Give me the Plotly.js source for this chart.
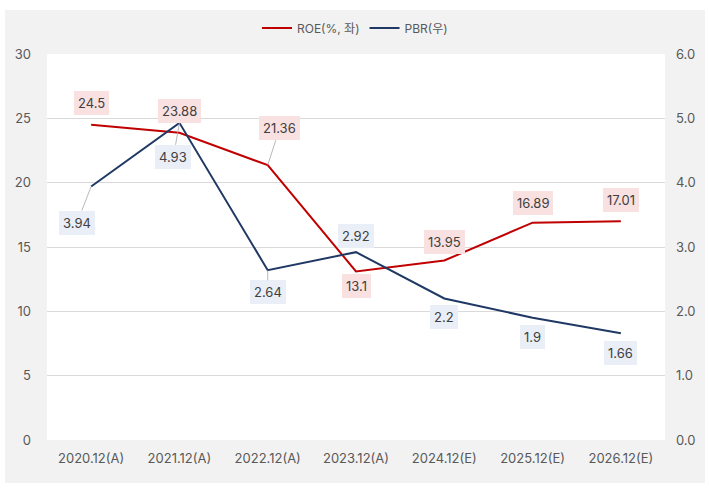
<!DOCTYPE html>
<html>
<head>
<meta charset="utf-8">
<script src="https://cdn.plot.ly/plotly-3.0.1.min.js"></script>
<style>
html,body{margin:0;padding:0;background:#ffffff;}
#chart{position:absolute;left:5px;top:10px;width:700px;height:473px;}
</style>
</head>
<body>
<div id="chart"></div>
<script>
const categories = ["2020.12(A)","2021.12(A)","2022.12(A)","2023.12(A)","2024.12(E)","2025.12(E)","2026.12(E)"];
const roe = [24.5, 23.88, 21.36, 13.1, 13.95, 16.89, 17.01];
const pbr = [3.94, 4.93, 2.64, 2.92, 2.2, 1.9, 1.66];
const roeName = "ROE(%, 좌)";
const pbrName = "PBR(우)";
const leftTicks = [0,5,10,15,20,25,30];
const rightTicks = [0,1,2,3,4,5,6];

// label offsets (px) relative to each point: [ax, ay, showLine]
const roeOffsets = [[0,-22,false],[0,-22,false],[12,-37,true],[0,15,false],[0,-19,false],[0,-20,false],[0,-21,false]];
const pbrOffsets = [[-14,36,true],[-6,34,true],[0,22,true],[0,-16,false],[0,19,false],[0,19,false],[0,20,false]];

const FONT = "Inter, 'Noto Sans CJK KR', sans-serif";

const traces = [
  {x: categories, y: roe, name: roeName, type: 'scatter', mode: 'lines',
   line: {color: '#c00000', width: 2}, yaxis: 'y'},
  {x: categories, y: pbr, name: pbrName, type: 'scatter', mode: 'lines',
   line: {color: '#1f3864', width: 2}, yaxis: 'y2'}
];

function makeAnn(xs, ys, offs, yref, bg, fmt) {
  return xs.map((c, i) => {
    const o = offs[i];
    const a = {
      x: c, y: ys[i], xref: 'x', yref: yref,
      text: fmt(ys[i]),
      font: {family: FONT, size: 13, color: '#404040'},
      bgcolor: bg, borderpad: 4, borderwidth: 0
    };
    if (o[2]) {
      a.showarrow = true; a.ax = o[0]; a.ay = o[1];
      a.arrowhead = 0; a.arrowwidth = 0.8; a.arrowcolor = '#a6a6a6';
      a.standoff = 0;
    } else {
      a.showarrow = false; a.xshift = o[0]; a.yshift = -o[1];
    }
    return a;
  });
}

const annotations = [].concat(
  makeAnn(categories, roe, roeOffsets, 'y', '#f9e1e2', v => String(v)),
  makeAnn(categories, pbr, pbrOffsets, 'y2', '#e9eef7', v => String(v))
);

const layout = {
  width: 700, height: 473,
  paper_bgcolor: '#f2f2f2', plot_bgcolor: '#ffffff',
  margin: {l: 42, r: 40, t: 44, b: 43, pad: 0, autoexpand: false},
  font: {family: FONT, size: 13, color: '#595959'},
  showlegend: true,
  legend: {orientation: 'h', x: 0.5, xanchor: 'center', xref: 'container',
           y: 0.962, yanchor: 'middle', yref: 'container',
           font: {family: FONT, size: 12, color: '#595959'}, bgcolor: 'rgba(0,0,0,0)'},
  xaxis: {type: 'category', range: [-0.5, 6.5], showgrid: false, zeroline: false, showline: false,
          automargin: false,
          ticks: '', ticklabelstandoff: 9, tickfont: {size: 13, color: '#595959'},
          fixedrange: true},
  yaxis: {range: [0, 30], tickvals: leftTicks, ticktext: leftTicks.map(String),
          automargin: false,
          showgrid: true, gridcolor: '#d9d9d9', gridwidth: 1, zeroline: false,
          showline: false, ticks: '', ticklabelstandoff: 15,
          tickfont: {size: 13, color: '#595959'}},
  yaxis2: {range: [0, 6], tickvals: rightTicks, ticktext: rightTicks.map(v => v.toFixed(1)),
           automargin: false,
           overlaying: 'y', side: 'right', showgrid: false, zeroline: false,
           showline: false, ticks: '', ticklabelstandoff: 10,
           tickfont: {size: 13, color: '#595959'}},
  annotations: annotations
};

Plotly.newPlot('chart', traces, layout, {displayModeBar: false, staticPlot: true});
</script>
</body>
</html>
